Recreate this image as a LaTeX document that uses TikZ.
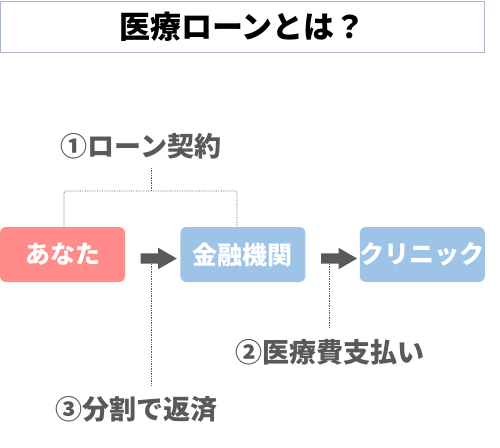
\documentclass[tikz,border=0pt]{standalone}
\usepackage{fontspec}
\setmainfont{Noto Sans CJK JP}
\usepackage{tikz}
\usetikzlibrary{calc, positioning, shapes.arrows}

\definecolor{notegray}{HTML}{595959}
\definecolor{youpink}{HTML}{FF8B8B}
\definecolor{partyblue}{HTML}{9DC3E6}
\definecolor{framegray}{HTML}{A9B5CE}

\begin{document}
\begin{tikzpicture}[x=1pt, y=-1pt,
    party/.style={rounded corners=6pt, minimum width=125pt, minimum height=55pt,
        inner sep=0pt, text=white, font=\fontsize{25}{29}\selectfont\bfseries},
    stepnote/.style={inner sep=0pt, text=notegray, font=\fontsize{27}{31}\selectfont\bfseries},
    blockarrow/.style={single arrow, fill=notegray, minimum height=36pt, minimum width=21pt,
        single arrow head extend=5.5pt, single arrow tip angle=60, inner sep=0pt, inner ysep=5pt},
    guide/.style={densely dotted, notegray, line width=0.7pt}
]
\useasboundingbox (0,0) rectangle (500,447);

% title
\node[draw=framegray, line width=0.8pt, minimum width=484pt, minimum height=51pt, inner sep=0pt,
    font=\fontsize{31}{35}\selectfont\bfseries] (title) at (242.5,26.5) {医療ローンとは？};

% the three parties
\node[party, fill=youpink] (you) at (62.5,254.5) {あなた};
\node[party, fill=partyblue, right=55pt of you] (bank) {金融機関};
\node[party, fill=partyblue, right=54pt of bank] (clinic) {クリニック};

% flow arrows
\node[blockarrow, xshift=1.5pt, yshift=-4pt] (pay1) at ($(you.east)!0.5!(bank.west)$) {};
\node[blockarrow, xshift=2pt, yshift=-4pt] (pay2) at ($(bank.east)!0.5!(clinic.west)$) {};

% steps
\node[stepnote] (contract) at (141,146) {①ローン契約};
\node[stepnote] (fee) at (330,352) {②医療費支払い};
\node[stepnote] (repay) at (136,409) {③分割で返済};

% dotted guides
\coordinate (fork) at (151,191);
\draw[guide] (contract.south -| fork) ++(0,9) -- (fork);
\draw[guide, rounded corners=2pt] ([xshift=1.5pt]you.north) |- (fork) -| ([xshift=-6pt]bank.north);
\draw[guide, shorten >=11pt] ([xshift=-3pt]pay1.south) -- ([xshift=-3pt]pay1.south |- repay.north);
\draw[guide, shorten >=12pt] ([xshift=-5pt]pay2.south) -- ([xshift=-5pt]pay2.south |- fee.north);
\end{tikzpicture}
\end{document}
